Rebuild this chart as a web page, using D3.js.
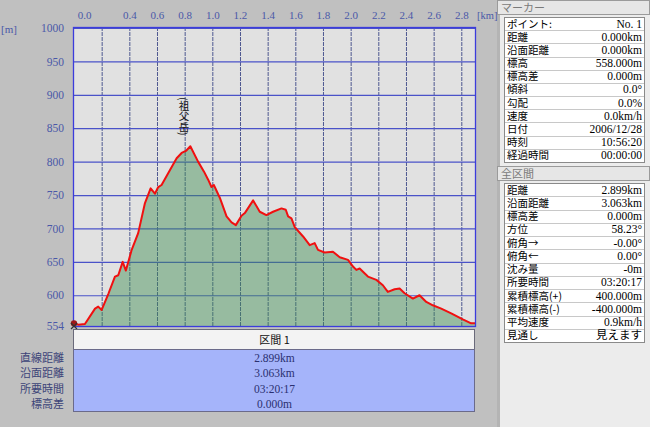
<!DOCTYPE html>
<html>
<head>
<meta charset="utf-8">
<script src="https://cdn.jsdelivr.net/npm/d3@7"></script>
<style>
  body { margin: 0; background: #c0c0c0; }
  svg { display: block; }
  .num { font-family: "Liberation Serif", "Noto Sans CJK JP", serif; }
  .jp { font-family: "Noto Sans CJK JP", sans-serif; }
  .axis path { display: none; }
</style>
</head>
<body>
<div id="chart"></div>
<script>
// Profile samples
var distKm = [0.000, 0.031, 0.079, 0.152, 0.175, 0.200, 0.250, 0.296, 0.320, 0.352, 0.375, 0.417,
  0.464, 0.513, 0.554, 0.585, 0.609, 0.633, 0.693, 0.742, 0.778, 0.809, 0.841, 0.897, 0.940,
  0.970, 0.994, 1.011, 1.054, 1.103, 1.139, 1.170, 1.211, 1.235, 1.295, 1.343, 1.391, 1.439,
  1.500, 1.531, 1.548, 1.572, 1.596, 1.656, 1.704, 1.740, 1.764, 1.812, 1.872, 1.921, 1.981,
  2.017, 2.041, 2.065, 2.125, 2.186, 2.233, 2.269, 2.318, 2.354, 2.390, 2.450, 2.498, 2.547,
  2.594, 2.655, 2.727, 2.811, 2.871, 2.899];
var elevM = [558, 556, 557, 580, 583, 578, 603, 628, 630, 650, 637, 668,
  693, 738, 760, 752, 762, 765, 787, 805, 813, 816, 823, 800, 785,
  773, 762, 765, 746, 718, 709, 705, 719, 723, 742, 725, 720, 725,
  730, 728, 718, 715, 702, 688, 675, 678, 668, 664, 665, 657, 653,
  643, 638, 640, 628, 623, 615, 605, 609, 610, 603, 595, 600, 590,
  585, 580, 573, 564, 558, 558];

var xTicks = [0.0, 0.2, 0.4, 0.6, 0.8, 1.0, 1.2, 1.4, 1.6, 1.8, 2.0, 2.2, 2.4, 2.6, 2.8];
var yTicks = [554, 600, 650, 700, 750, 800, 850, 900, 950, 1000];

var peakName = "(祖父岳)";
var peakKm = 0.795;

var segTitle = "区間 1";
var segLabels = ["直線距離", "沿面距離", "所要時間", "標高差"];
var segValues = ["2.899km", "3.063km", "03:20:17", "0.000m"];

var markerTitle = "マーカー";
var markerLabels = ["ポイント:", "距離", "沿面距離", "標高", "標高差", "傾斜", "勾配", "速度", "日付", "時刻", "経過時間"];
var markerValues = ["No. 1", "0.000km", "0.000km", "558.000m", "0.000m", "0.0°", "0.0%", "0.0km/h", "2006/12/28", "10:56:20", "00:00:00"];

var totalTitle = "全区間";
var totalLabels = ["距離", "沿面距離", "標高差", "方位", "俯角→", "俯角←", "沈み量", "所要時間", "累積標高(+)", "累積標高(-)", "平均速度", "見通し"];
var totalValues = ["2.899km", "3.063km", "0.000m", "58.23°", "-0.00°", "0.00°", "-0m", "03:20:17", "400.000m", "-400.000m", "0.9km/h", "見えます"];

var W = 650, H = 427;
var pL = 74, pR = 475, pT = 28, pB = 326;

var svg = d3.select('#chart').append('svg')
  .attr('width', W).attr('height', H);

svg.append('rect').attr('width', W).attr('height', H).attr('fill', '#c0c0c0');

// right info panel background (drawn first so the [km] label can sit on top)
svg.append('rect').attr('x', 497).attr('y', 0).attr('width', 3).attr('height', H).attr('fill', '#b4b4b4');
svg.append('rect').attr('x', 500).attr('y', 0).attr('width', 150).attr('height', H).attr('fill', '#ececec');

var x = d3.scaleLinear().domain([0, 2.899]).range([pL, pR]);
var y = d3.scaleLinear().domain([554, 1000]).range([pB, pT]);

// plot background
svg.append('rect')
  .attr('x', pL).attr('y', pT)
  .attr('width', pR - pL).attr('height', pB - pT)
  .attr('fill', '#e1e1e1');

// vertical grid
var vgrid = svg.append('g').attr('class', 'axis')
  .attr('transform', 'translate(0,' + pB + ')')
  .call(d3.axisBottom(x).tickValues(xTicks.slice(1)).tickSize(-(pB - pT)).tickFormat(''));
vgrid.selectAll('line').attr('stroke', '#4e5890').attr('stroke-dasharray', '4,1').attr('stroke-width', 1);

// horizontal grid
var hgrid = svg.append('g').attr('class', 'axis')
  .attr('transform', 'translate(' + pL + ',0)')
  .call(d3.axisLeft(y).tickValues(yTicks.slice(1)).tickSize(-(pR - pL)).tickFormat(''));
hgrid.selectAll('line').attr('stroke', '#4a52c8').attr('stroke-width', 1.2);

// area + line
var pts = distKm.map(function (d, i) { return [d, elevM[i]]; });

svg.append('path')
  .datum(pts)
  .attr('fill', '#3f8f52').attr('fill-opacity', 0.45)
  .attr('d', d3.area().x(function (d) { return x(d[0]); }).y0(y(554)).y1(function (d) { return y(d[1]); }));

svg.append('path')
  .datum(pts)
  .attr('fill', 'none').attr('stroke', '#f01010').attr('stroke-width', 2)
  .attr('stroke-linejoin', 'round')
  .attr('d', d3.line().x(function (d) { return x(d[0]); }).y(function (d) { return y(d[1]); }));

// plot frame
svg.append('rect')
  .attr('x', pL - 0.5).attr('y', pT - 0.5)
  .attr('width', pR - pL + 1).attr('height', pB - pT + 1)
  .attr('fill', 'none').attr('stroke', '#3c3cdc').attr('stroke-width', 1.3);

// start marker
svg.append('circle').attr('cx', x(0)).attr('cy', y(elevM[0]))
  .attr('r', 3.2).attr('fill', '#a01818');
svg.append('path')
  .attr('d', 'M' + (x(0) - 3) + ',' + (pB - 3) + 'l6,6M' + (x(0) + 3) + ',' + (pB - 3) + 'l-6,6')
  .attr('stroke', '#333').attr('stroke-width', 1.2);

// top axis labels
var xAxis = svg.append('g').attr('class', 'axis num')
  .attr('transform', 'translate(0,19)')
  .call(d3.axisTop(x).tickValues(xTicks).tickSize(0).tickPadding(0)
    .tickFormat(function (d) { return d === 0.2 ? '' : d.toFixed(1); }));
xAxis.selectAll('text').attr('fill', '#4a58a8').attr('font-size', 11).attr('dy', 0);
xAxis.selectAll('text').filter(function (d) { return d === 0; }).attr('dx', 10);

svg.append('text').attr('class', 'num')
  .attr('x', 477).attr('y', 19).attr('font-size', 10.5).attr('fill', '#4a58a8').text('[km]');
svg.append('text').attr('class', 'num')
  .attr('x', 1).attr('y', 33).attr('font-size', 11).attr('fill', '#4a58a8').text('[m]');

// left axis labels
var yAxis = svg.append('g').attr('class', 'axis num')
  .attr('transform', 'translate(64,0)')
  .call(d3.axisLeft(y).tickValues(yTicks).tickSize(0).tickPadding(0).tickFormat(d3.format('d')));
yAxis.selectAll('text').attr('fill', '#4a58a8').attr('font-size', 11.5);

// peak name (vertical)
svg.append('text').attr('class', 'jp')
  .attr('x', x(peakKm)).attr('y', 97)
  .attr('writing-mode', 'vertical-rl')
  .attr('font-size', 10.5).attr('fill', '#111')
  .text(peakName);

// bottom section table
svg.append('rect').attr('x', pL - 0.5).attr('y', 329.5).attr('width', pR - pL).attr('height', 20)
  .attr('fill', '#f3f3f3').attr('stroke', '#6a6a7a');
svg.append('text').attr('class', 'jp')
  .attr('x', (pL + pR) / 2).attr('y', 344).attr('text-anchor', 'middle')
  .attr('font-size', 11).attr('fill', '#111').text(segTitle);
svg.append('rect').attr('x', pL - 0.5).attr('y', 349.5).attr('width', pR - pL).attr('height', 62)
  .attr('fill', '#a5b4fa').attr('stroke', '#6a6a8a');

var rowY = d3.scalePoint().domain(d3.range(segLabels.length)).range([358, 404]);
svg.selectAll('text.segl').data(segLabels).enter().append('text')
  .attr('class', 'segl jp')
  .attr('x', 64).attr('y', function (d, i) { return rowY(i) + 4; })
  .attr('text-anchor', 'end').attr('font-size', 11).attr('fill', '#3c4478')
  .text(function (d) { return d; });
svg.selectAll('text.segv').data(segValues).enter().append('text')
  .attr('class', 'segv num')
  .attr('x', (pL + pR) / 2).attr('y', function (d, i) { return rowY(i) + 4; })
  .attr('text-anchor', 'middle').attr('font-size', 11.5).attr('fill', '#2a3070')
  .text(function (d) { return d; });

function panel(title, labels, values, y0, y1) {
  var g = svg.append('g');
  g.append('rect').attr('x', 497.5).attr('y', y0 + 0.5).attr('width', 152).attr('height', 14)
    .attr('fill', '#e6e6e6').attr('stroke', '#9a9a9a');
  g.append('text').attr('class', 'jp')
    .attr('x', 501).attr('y', y0 + 11.5).attr('font-size', 11).attr('fill', '#7a7a7a').text(title);

  var ty = y0 + 17;
  var rows = d3.scaleLinear().domain([0, labels.length]).range([ty, y1]);
  g.append('rect').attr('x', 504.5).attr('y', ty + 0.5).attr('width', 140).attr('height', y1 - ty)
    .attr('fill', '#fff').attr('stroke', '#8a8a8a');
  g.selectAll('line.sep').data(d3.range(1, labels.length)).enter().append('line')
    .attr('x1', 505).attr('x2', 644)
    .attr('y1', function (d) { return Math.round(rows(d)) + 0.5; })
    .attr('y2', function (d) { return Math.round(rows(d)) + 0.5; })
    .attr('stroke', '#c8c8c8');
  g.selectAll('text.l').data(labels).enter().append('text')
    .attr('class', 'jp').attr('x', 507)
    .attr('y', function (d, i) { return rows(i) + 10.5; })
    .attr('font-size', 10.5).attr('fill', '#000')
    .text(function (d) { return d; });
  g.selectAll('text.v').data(values).enter().append('text')
    .attr('class', 'num').attr('x', 642)
    .attr('y', function (d, i) { return rows(i) + 10.5; })
    .attr('text-anchor', 'end').attr('font-size', 11.5).attr('fill', '#000')
    .text(function (d) { return d; });
}

panel(markerTitle, markerLabels, markerValues, 0, 162);
panel(totalTitle, totalLabels, totalValues, 166, 342);
</script>
</body>
</html>
